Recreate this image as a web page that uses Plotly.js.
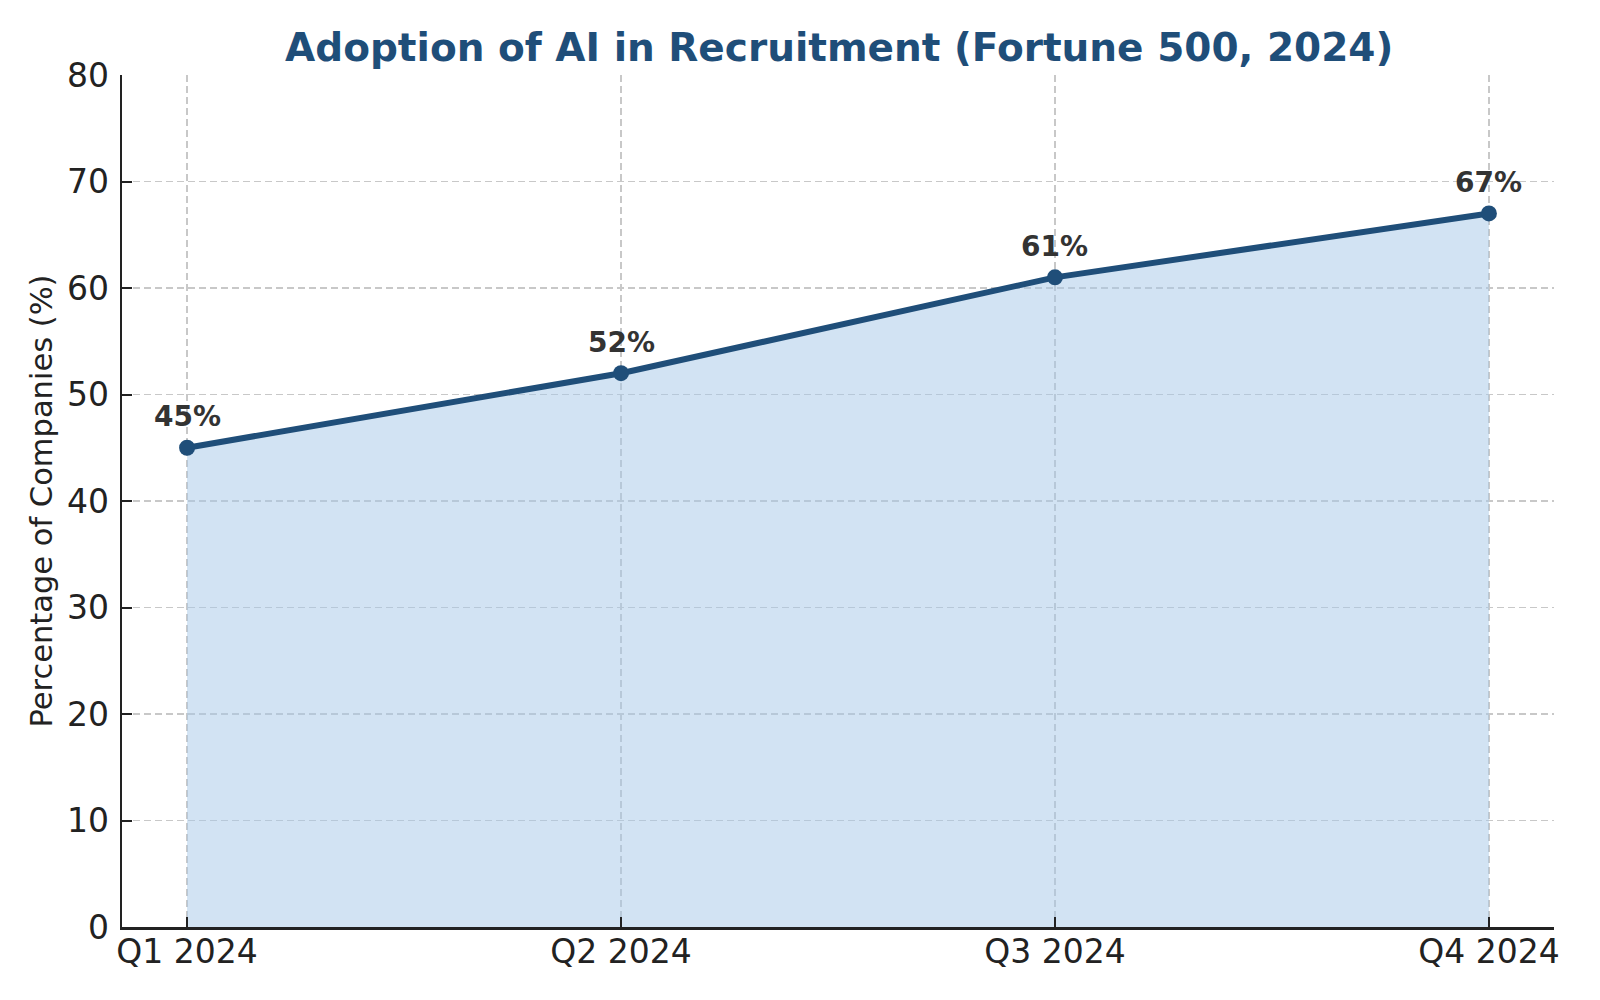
<!DOCTYPE html>
<html>
<head>
<meta charset="utf-8">
<script src="https://cdn.plot.ly/plotly-3.0.1.min.js"></script>
<style>
    html, body { margin: 0; padding: 0; background: #ffffff; }
    #chart { width: 1600px; height: 1000px; }
</style>
</head>
<body>
<div id="chart"></div>
<script>

const quarters = [ 'Q1 2024', 'Q2 2024', 'Q3 2024', 'Q4 2024' ];
const adoption = [ 45, 52, 61, 67 ];
const labels = [ '45%', '52%', '61%', '67%' ];
const yTicks = [ 0, 10, 20, 30, 40, 50, 60, 70, 80 ];

const navy = '#1f4e79';

const chartData = [
    {
        type: 'scatter',
        name: 'Adoption',
        mode: 'lines+markers',
        x: quarters,
        y: adoption,
        fill: 'tozeroy',
        fillcolor: 'rgba(166,199,232,0.5)',
        line: {
            color: navy,
            width: 6
        },
        marker: {
            color: navy,
            size: 16
        },
        hoverinfo: 'skip',
        showlegend: false
    }
];

// value labels above each point
const notes = quarters.map( ( q, i ) => ( {
    x: q,
    y: adoption[ i ],
    text: labels[ i ],
    showarrow: false,
    yshift: 31,
    font: {
        family: 'DejaVu Sans',
        size: 28,
        weight: 'bold',
        color: '#333333'
    }
} ) );

const chartLayout = {
    width: 1600,
    height: 1000,
    margin: { l: 122, r: 46, t: 75, b: 73 },
    paper_bgcolor: '#ffffff',
    plot_bgcolor: '#ffffff',
    font: {
        family: 'DejaVu Sans',
        color: '#222222'
    },
    title: {
        text: 'Adoption of AI in Recruitment (Fortune 500, 2024)',
        font: {
            family: 'DejaVu Sans',
            size: 39,
            weight: 'bold',
            color: navy
        },
        x: 0.5245,
        xanchor: 'center',
        y: 0.953,
        yanchor: 'middle',
        yref: 'container'
    },
    xaxis: {
        type: 'category',
        range: [ -0.15, 3.15 ],
        showline: true,
        linecolor: '#222222',
        linewidth: 2.5,
        ticks: 'inside',
        ticklen: 10,
        tickwidth: 2,
        tickcolor: '#222222',
        tickfont: { size: 33, color: '#222222' },
        ticklabelstandoff: -6,
        showgrid: true,
        gridcolor: '#c8c8c8',
        gridwidth: 1.5,
        griddash: '7px,4px',
        zeroline: false,
        fixedrange: true
    },
    yaxis: {
        title: {
            text: 'Percentage of Companies (%)',
            font: { size: 30.5, color: '#222222' },
            standoff: 5
        },
        range: [ 0, 80 ],
        tickvals: yTicks,
        showline: true,
        linecolor: '#222222',
        linewidth: 2.5,
        ticks: 'inside',
        ticklen: 10,
        tickwidth: 2,
        tickcolor: '#222222',
        tickfont: { size: 33, color: '#222222' },
        ticklabelstandoff: 4,
        showgrid: true,
        gridcolor: '#c8c8c8',
        gridwidth: 1.5,
        griddash: '7px,4px',
        zeroline: false,
        fixedrange: true
    },
    annotations: notes
};

Plotly.newPlot( 'chart', chartData, chartLayout, { displayModeBar: false, staticPlot: true } );

</script>
</body>
</html>
